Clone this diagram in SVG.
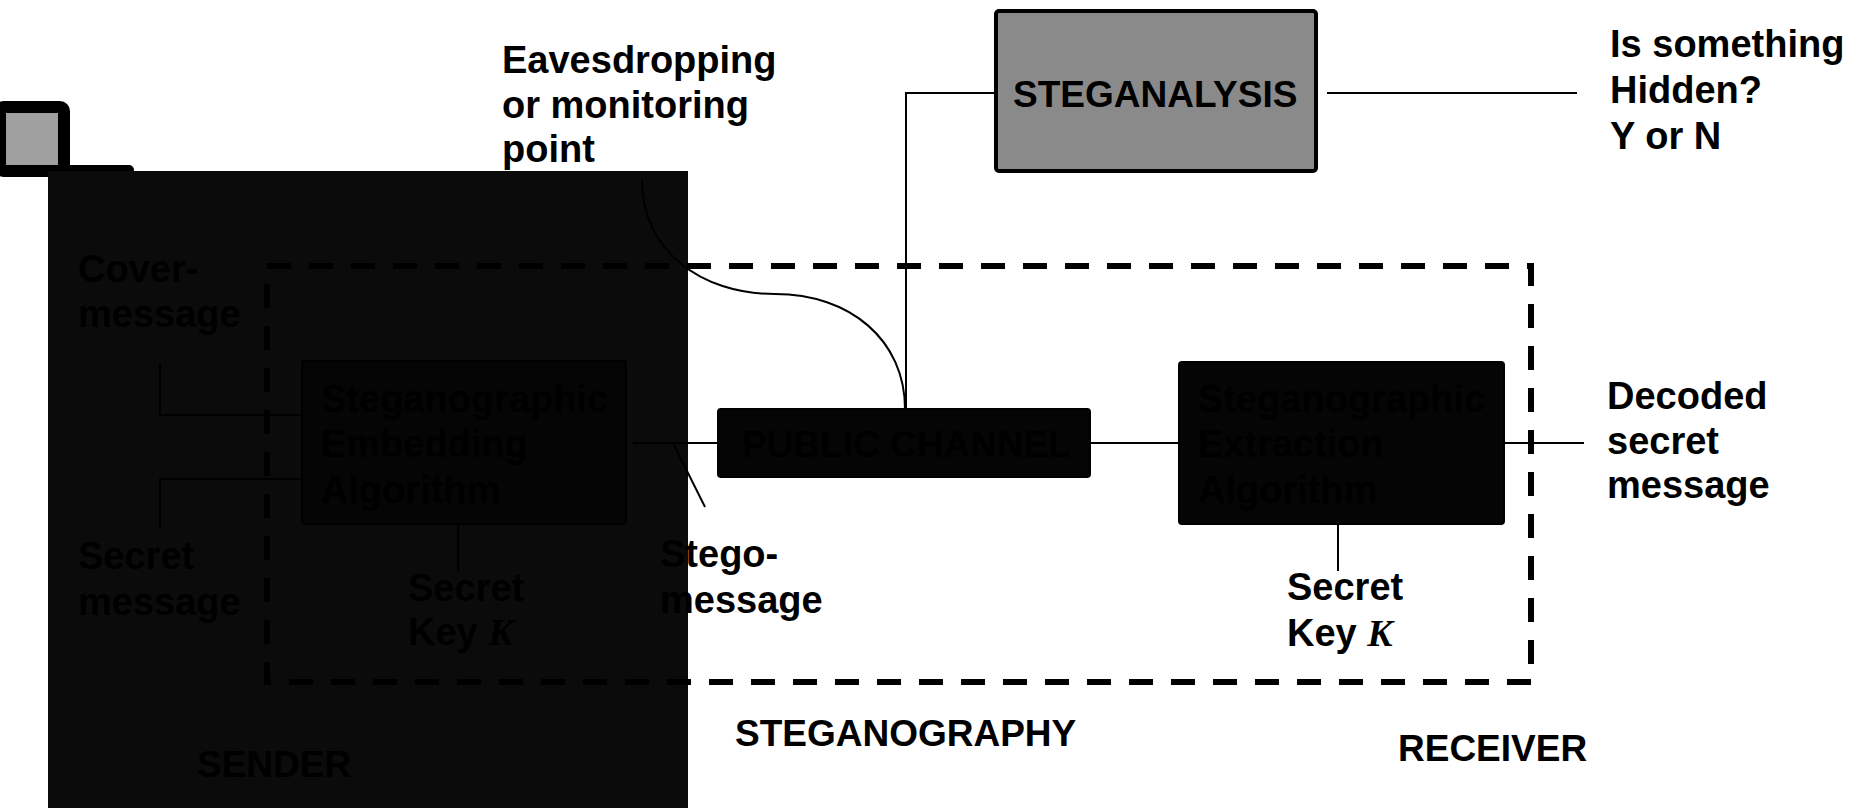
<svg xmlns="http://www.w3.org/2000/svg" width="1868" height="808" viewBox="0 0 1868 808">
  <style>
    .lbl { font-family: "Liberation Sans", Arial, sans-serif; font-weight: bold; font-size: 38px; fill: #000; }
    .cap { font-size: 37px; }
    .k { font-family: "Liberation Serif", "Times New Roman", serif; font-style: italic; font-weight: bold; }
    .box { fill: #050505; stroke: #000; stroke-width: 2; }
    .ln { fill: none; stroke: #000; stroke-width: 2; }
    .dash { fill: none; stroke: #000; stroke-width: 6; stroke-dasharray: 24 18; }
  </style>

  <rect width="1868" height="808" fill="#fff"/>

  <!-- corner marker and sender backdrop -->
  <rect x="60" y="165" width="74" height="80" rx="5" fill="#000"/>
  <rect x="0" y="107" width="64" height="64" rx="4" fill="#a0a0a0" stroke="#000" stroke-width="12"/>
  <rect id="sender-panel" x="48" y="171" width="640" height="637" fill="#0b0b0b"/>

  <!-- steganography boundary -->
  <rect id="steganography-boundary" class="dash" x="267" y="266" width="1264" height="416"/>

  <!-- connectors -->
  <g id="connectors">
    <path class="ln" d="M160,363 V415 H302"/>
    <path class="ln" d="M160,527 V479 H302"/>
    <path class="ln" d="M633,443 H718"/>
    <path class="ln" d="M673,443 L705,507"/>
    <path class="ln" d="M458,524 V571"/>
    <path class="ln" d="M1090,443 H1179"/>
    <path class="ln" d="M1504,443 H1584"/>
    <path class="ln" d="M1338,524 V571"/>
    <path class="ln" stroke-width="2.5" d="M994,93 H906 V409"/>
    <path class="ln" stroke-width="2.5" d="M1327,93 H1577"/>
    <path class="ln" d="M642,180 C642,250 700,294 775,294 C850,294 905,340 905,409"/>
  </g>

  <!-- analysis node -->
  <g id="steganalysis">
    <rect x="996" y="11" width="320" height="160" rx="3" fill="#8a8a8a" stroke="#000" stroke-width="4"/>
    <text class="lbl cap" x="1013" y="107">STEGANALYSIS</text>
  </g>

  <g id="embedding">
    <rect class="box" x="302" y="361" width="324" height="163" rx="3"/>
    <text class="lbl" x="321" y="412">Steganographic<tspan x="321" dy="45">Embedding</tspan><tspan x="321" dy="46">Algorithm</tspan></text>
  </g>

  <g id="public-channel">
    <rect class="box" x="718" y="409" width="372" height="68" rx="3"/>
    <text class="lbl cap" x="742" y="457">PUBLIC CHANNEL</text>
  </g>

  <g id="extraction">
    <rect class="box" x="1179" y="362" width="325" height="162" rx="3"/>
    <text class="lbl" x="1198" y="412">Steganographic<tspan x="1198" dy="45">Extraction</tspan><tspan x="1198" dy="46">Algorithm</tspan></text>
  </g>

  <!-- labels -->
  <g id="eavesdropping-label">
    <text class="lbl" x="502" y="73">Eavesdropping<tspan x="502" dy="45">or monitoring</tspan><tspan x="502" dy="44">point</tspan></text>
  </g>
  <g id="hidden-label">
    <text class="lbl" x="1610" y="57">Is something<tspan x="1610" dy="46">Hidden?</tspan><tspan x="1610" dy="46">Y or N</tspan></text>
  </g>
  <g id="cover-label">
    <text class="lbl" x="78" y="282">Cover-<tspan x="78" dy="45">message</tspan></text>
  </g>
  <g id="secret-label">
    <text class="lbl" x="78" y="569">Secret<tspan x="78" dy="46">message</tspan></text>
  </g>
  <g id="sender-key">
    <text class="lbl" x="408" y="601">Secret<tspan x="408" dy="44">Key </tspan><tspan class="k">K</tspan></text>
  </g>
  <g id="stego-label">
    <text class="lbl" x="660" y="567">Stego-<tspan x="660" dy="46">message</tspan></text>
  </g>
  <g id="receiver-key">
    <text class="lbl" x="1287" y="600">Secret<tspan x="1287" dy="46">Key </tspan><tspan class="k">K</tspan></text>
  </g>
  <g id="decoded-label">
    <text class="lbl" x="1607" y="409">Decoded<tspan x="1607" dy="45">secret</tspan><tspan x="1607" dy="44">message</tspan></text>
  </g>
  <g id="steganography-title">
    <text class="lbl cap" x="735" y="746">STEGANOGRAPHY</text>
  </g>
  <g id="sender-title">
    <text class="lbl cap" x="197" y="777">SENDER</text>
  </g>
  <g id="receiver-title">
    <text class="lbl cap" x="1398" y="761">RECEIVER</text>
  </g>
</svg>
